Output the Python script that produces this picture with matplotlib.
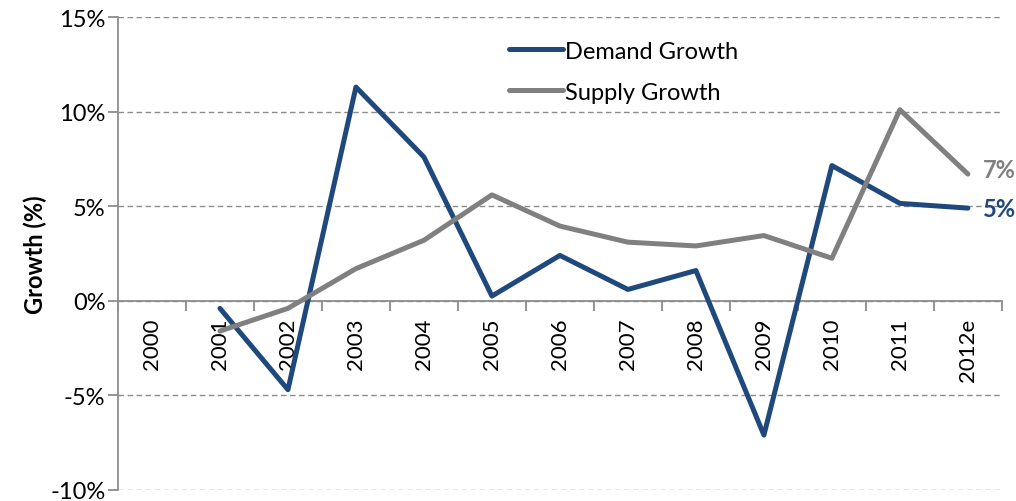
import matplotlib
matplotlib.use('Agg')
import matplotlib.pyplot as plt
import numpy as np
from matplotlib.ticker import FixedLocator, PercentFormatter

# data (growth in %)
years = ['2000', '2001', '2002', '2003', '2004', '2005', '2006',
         '2007', '2008', '2009', '2010', '2011', '2012e']
demand = [np.nan, -0.4, -4.7, 11.3, 7.6, 0.25, 2.4, 0.6, 1.6, -7.1, 7.15, 5.15, 4.9]
supply = [np.nan, -1.6, -0.4, 1.7, 3.2, 5.6, 3.95, 3.1, 2.9, 3.45, 2.25, 10.1, 6.7]
end_labels = ['5%', '7%']

DEMAND_COL = '#1F497D'
SUPPLY_COL = '#808080'
GRID_COL = '#8c8c8c'

plt.rcParams['font.family'] = ['Lato', 'DejaVu Sans']
plt.rcParams['axes.unicode_minus'] = False

fig = plt.figure(figsize=(10.16, 5.02), dpi=100)
ax = fig.add_axes([0.1161, 0.022, 0.870, 0.942])

x = np.arange(len(years))
ax.plot(x, demand, color=DEMAND_COL, lw=3.6, label='Demand Growth', solid_capstyle='round', zorder=3)
ax.plot(x, supply, color=SUPPLY_COL, lw=3.6, label='Supply Growth', solid_capstyle='round', zorder=3)

ax.set_xlim(-0.5, len(years) - 0.5)
ax.set_ylim(-10, 15)
ax.set_yticks([-10, -5, 0, 5, 10, 15])
ax.yaxis.set_major_formatter(PercentFormatter(decimals=0))
ax.grid(axis='y', color=GRID_COL, ls=(0, (4, 2.5)), lw=1)
ax.set_axisbelow(True)

for s in ['top', 'right']:
    ax.spines[s].set_visible(False)
ax.spines['left'].set_color(GRID_COL)
ax.spines['left'].set_linewidth(1.3)
ax.spines['bottom'].set_position(('data', 0))
ax.spines['bottom'].set_color(GRID_COL)
ax.spines['bottom'].set_linewidth(1.3)

ax.set_xticks(x)
ax.set_xticklabels(years, rotation=90, fontsize=16)
ax.tick_params(axis='x', which='major', length=0, pad=12)
ax.xaxis.set_minor_locator(FixedLocator(np.arange(-0.5, len(years), 1)))
ax.tick_params(axis='x', which='minor', length=7, color=GRID_COL, width=1.3)
ax.tick_params(axis='y', length=7, color=GRID_COL, width=1.3, labelsize=17, pad=2)

ax.set_ylabel('Growth (%)', fontsize=17, fontweight='bold', labelpad=2)

ax.text(x[-1] + 0.22, demand[-1], end_labels[0], color=DEMAND_COL, fontsize=17,
        fontweight='bold', va='center', ha='left', clip_on=False)
ax.text(x[-1] + 0.22, supply[-1] + 0.25, end_labels[1], color=SUPPLY_COL, fontsize=17,
        fontweight='bold', va='center', ha='left', clip_on=False)

ax.legend(loc='upper left', bbox_to_anchor=(0.418, 0.995), frameon=False, fontsize=17,
          handlelength=2.3, handletextpad=0.1, labelspacing=0.85)

fig.savefig('out.png', dpi=100)
